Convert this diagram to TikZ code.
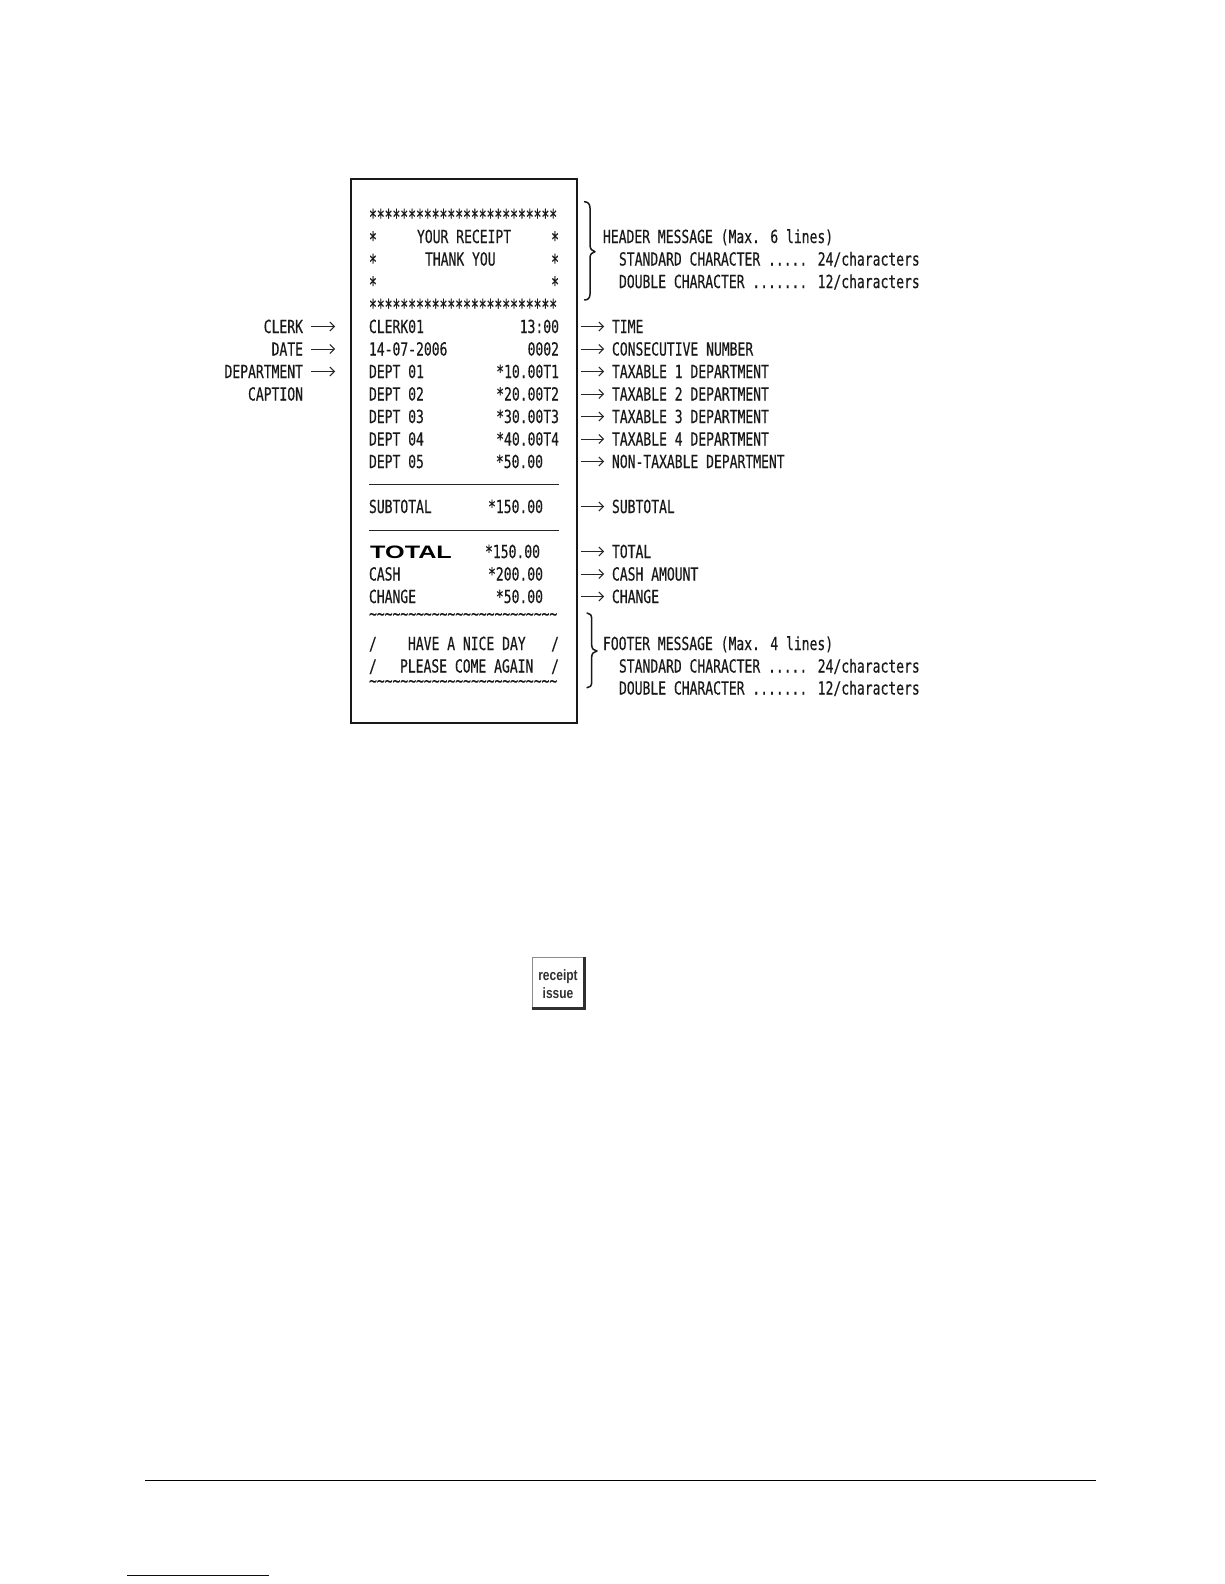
\documentclass[tikz,border=0pt]{standalone}
\usepackage{fontspec}
\usetikzlibrary{arrows.meta}
\newfontfamily\gothic[FakeStretch=0.724,FakeBold=0.4]{DejaVu Sans Mono}
\newfontfamily\starfont[FakeStretch=0.592,FakeBold=0.4]{DejaVu Sans Mono}
\newfontfamily\widebold[FakeStretch=1.4]{Liberation Sans Bold}
\newfontfamily\keyfont[FakeStretch=0.8]{Liberation Sans Bold}
\def\tilfour{\textasciitilde\textasciitilde\textasciitilde\textasciitilde}
\def\tilrow{\tilfour\tilfour\tilfour\tilfour\tilfour\tilfour}
\definecolor{keydark}{HTML}{303030}
\definecolor{linkblue}{HTML}{00007F}
\tikzset{
  txt/.style={inner sep=0pt,outer sep=0pt,text height=13pt,text depth=0pt,text=black!90,font=\gothic\fontsize{18}{18}\selectfont},
  tl/.style={txt,anchor=base west},
  tr/.style={txt,anchor=base east},
  stl/.style={tl,text height=8pt,font=\starfont\fontsize{22}{22}\selectfont},
  str/.style={tr,text height=8pt,font=\starfont\fontsize{22}{22}\selectfont},
  til/.style={tl,text height=4pt},
  arr/.style={line width=1pt,black!85,-{Straight Barb[length=4.5pt,width=9pt,line width=1pt]}},
  rarr/.style={arr,shorten >=8pt},
  larr/.style={arr,shorten <=8pt},
  rule/.style={line width=1.1pt,black!85},
  bracepath/.style={line width=1.5pt,black!90,line cap=round,line join=round},
  keytext/.style={inner sep=0pt,anchor=base,text=keydark,font=\keyfont\fontsize{15}{15}\selectfont}
}
\begin{document}
\begin{tikzpicture}[x=1pt,y=-1pt]
\useasboundingbox (0,0) rectangle (1224,1584);
\fill[white] (0,0) rectangle (1224,1584);
% receipt frame
\draw[line width=2pt,black!90] (350.5,179) rectangle (577,722.5);
% receipt contents
\node[stl] (s1) at (369,225) {************************};
\node[stl] (a1) at (369,247.5) {*};
\node[str] (b1) at (559,247.5) {*};
\node[tl] (h1) at (417,243) {YOUR RECEIPT};
\node[stl] (a2) at (369,270) {*};
\node[str] (b2) at (559,270) {*};
\node[tl] (h2) at (425,265.5) {THANK YOU};
\node[stl] (a3) at (369,292.5) {*};
\node[str] (b3) at (559,292.5) {*};
\node[stl] (s2) at (369,315) {************************};
\node[tl] (c0) at (369,333) {CLERK01};
\node[tr] (d0) at (559,333) {13:00};
\node[tl] (c1) at (369,355.5) {14-07-2006};
\node[tr] (d1) at (559,355.5) {0002};
\node[tl] (c2) at (369,378) {DEPT 01};
\node[tr] (d2) at (559,378) {*10.00T1};
\node[tl] (c3) at (369,400.5) {DEPT 02};
\node[tr] (d3) at (559,400.5) {*20.00T2};
\node[tl] (c4) at (369,423) {DEPT 03};
\node[tr] (d4) at (559,423) {*30.00T3};
\node[tl] (c5) at (369,445.5) {DEPT 04};
\node[tr] (d5) at (559,445.5) {*40.00T4};
\node[tl] (c6) at (369,468) {DEPT 05};
\node[tr] (d6) at (543,468) {*50.00};
\draw[rule] (369,484.7) -- (559,484.7);
\node[tl] (c8) at (369,513) {SUBTOTAL};
\node[tr] (d8) at (543,513) {*150.00};
\draw[rule] (369,530.7) -- (559,530.7);
\node[inner sep=0pt,anchor=base west,text=black,font=\widebold\fontsize{18}{18}\selectfont] (c10) at (370,558.5) {TOTAL};
\node[tr] (d10) at (540,558) {*150.00};
\node[tl] (c11) at (369,580.5) {CASH};
\node[tr] (d11) at (543,580.5) {*200.00};
\node[tl] (c12) at (369,603) {CHANGE};
\node[tr] (d12) at (543,603) {*50.00};
\node[til] (t1) at (369,620) {\tilrow};
\node[tl] (a14) at (369,650) {/};
\node[tr] (b14) at (559,650) {/};
\node[tl] (f1) at (408,650) {HAVE A NICE DAY};
\node[tl] (a15) at (369,672.5) {/};
\node[tr] (b15) at (559,672.5) {/};
\node[tl] (f2) at (400,672.5) {PLEASE COME AGAIN};
\node[til] (t2) at (369,687) {\tilrow};
% left captions
\node[tr] (l0) at (303,333) {CLERK};
\node[tr] (l1) at (303,355.5) {DATE};
\node[tr] (l2) at (303,378) {DEPARTMENT};
\node[tr] (l3) at (303,400.5) {CAPTION};
\coordinate (le0) at (335,326.5);
\coordinate (le1) at (335,349);
\coordinate (le2) at (335,371.5);
\draw[larr] (l0.east) -- (le0);
\draw[larr] (l1.east) -- (le1);
\draw[larr] (l2.east) -- (le2);
% right captions
\node[tl] (r0) at (612,333) {TIME};
\node[tl] (r1) at (612,355.5) {CONSECUTIVE NUMBER};
\node[tl] (r2) at (612,378) {TAXABLE 1 DEPARTMENT};
\node[tl] (r3) at (612,400.5) {TAXABLE 2 DEPARTMENT};
\node[tl] (r4) at (612,423) {TAXABLE 3 DEPARTMENT};
\node[tl] (r5) at (612,445.5) {TAXABLE 4 DEPARTMENT};
\node[tl] (r6) at (612,468) {NON-TAXABLE DEPARTMENT};
\node[tl] (r8) at (612,513) {SUBTOTAL};
\node[tl] (r10) at (612,558) {TOTAL};
\node[tl] (r11) at (612,580.5) {CASH AMOUNT};
\node[tl] (r12) at (612,603) {CHANGE};
\foreach \n/\y in {0/326.5,1/349,2/371.5,3/394,4/416.5,5/439,6/461.5,8/506.5,10/551.5,11/574,12/596.5}{
  \coordinate (rs\n) at (581,\y);
  \draw[rarr] (rs\n) -- (r\n.west);
}
% messages
\node[tl] (hm0) at (603,243) {HEADER MESSAGE (Max. 6 lines)};
\node[tl] (hm1) at (619,265.5) {STANDARD CHARACTER ..... 24/characters};
\node[tl] (hm2) at (619,288) {DOUBLE CHARACTER ....... 12/characters};
\node[tl] (fm0) at (603,650) {FOOTER MESSAGE (Max. 4 lines)};
\node[tl] (fm1) at (619,672.5) {STANDARD CHARACTER ..... 24/characters};
\node[tl] (fm2) at (619,694.5) {DOUBLE CHARACTER ....... 12/characters};
% braces
\draw[bracepath] (584.5,201.7) .. controls (588,202) and (590,204) .. (590,208)
  -- (590,245) .. controls (590,249) and (592,251) .. (595,251.7)
  .. controls (592,252.5) and (590,254) .. (590,258)
  -- (590,294) .. controls (590,298) and (588,300) .. (584.5,300);
\draw[bracepath] (587,613) .. controls (590,613.3) and (591.7,615) .. (591.7,619)
  -- (591.7,645) .. controls (591.7,649) and (594,650.5) .. (597,651)
  .. controls (594,652) and (591.7,653) .. (591.7,657)
  -- (591.7,682) .. controls (591.7,686) and (590,687.5) .. (587,687.7);
% key
\draw[line width=0.7pt,black!45] (532,1007) -- (532,957) -- (583,957);
\draw[line width=3pt,keydark] (584.5,956.5) -- (584.5,1008.5) -- (532,1008.5);
\node[keytext] (k1) at (558,980.7) {receipt};
\node[keytext] (k2) at (558,998) {issue};
% page rules
\draw[line width=1.2pt,black] (145,1480.5) -- (1096,1480.5);
\draw[line width=1pt,linkblue] (127,1575.5) -- (269,1575.5);
\end{tikzpicture}
\end{document}
